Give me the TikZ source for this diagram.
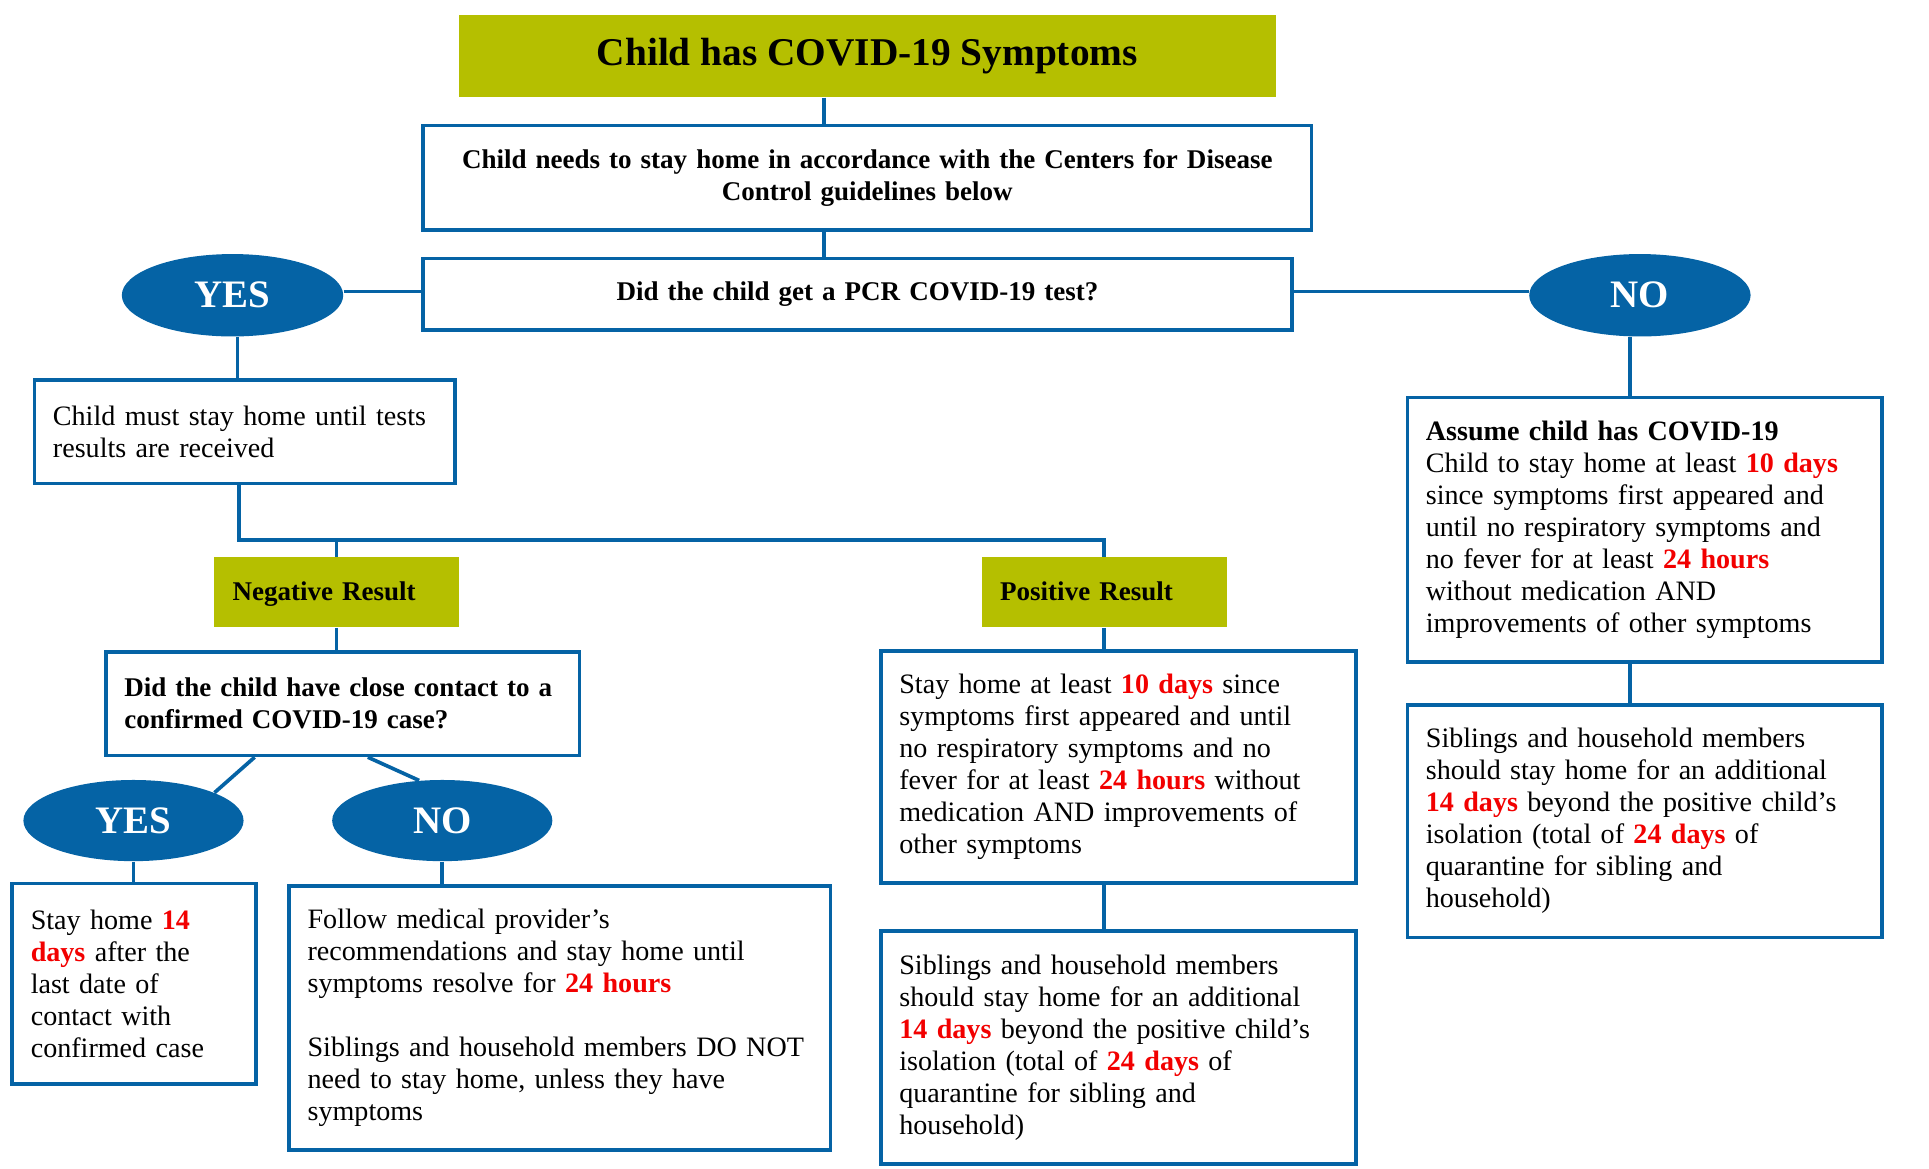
\documentclass[tikz,border=0pt]{standalone}
\usepackage{fontspec}
\setmainfont{Liberation Serif}
\usetikzlibrary{shapes.geometric}
\definecolor{cblue}{HTML}{0563A5}
\definecolor{olivebg}{HTML}{B5BF00}
\definecolor{hlred}{HTML}{F20000}
\newcommand{\hl}[1]{\textbf{\textcolor{hlred}{#1}}}
\tikzset{
  conn/.style={draw=cblue, line width=1.7pt},
  box/.style={draw=cblue, line width=1.7pt, fill=white, inner xsep=0.3cm, inner ysep=0pt,
    align=left, font=\fontsize{13}{14.8}\selectfont},
  boldbox/.style={box, font=\bfseries\fontsize{12.5}{14.8}\selectfont},
  cbox/.style={box, align=center, font=\bfseries\fontsize{12.5}{14.8}\selectfont},
  hdr/.style={fill=olivebg, inner xsep=0.3cm, inner ysep=0pt, align=left,
    text height=0.95em, text depth=0.22em,
    font=\bfseries\fontsize{12.5}{15}\selectfont},
  titlebox/.style={fill=olivebg, inner sep=0pt, font=\bfseries\fontsize{18.2}{22}\selectfont},
  oval/.style={ellipse, fill=cblue, inner sep=0pt, text=white,
    font=\bfseries\fontsize{18}{20}\selectfont},
}
\begin{document}
\begin{tikzpicture}[x=0.02cm, y=-0.02cm]
\useasboundingbox (0,0) rectangle (1568,950);

% nodes
\node[titlebox, minimum width=13.28cm, minimum height=1.34cm] (title) at (705,45.5) {Child has COVID-19 Symptoms};
\node[cbox, minimum width=14.44cm, minimum height=1.70cm, text width=13.84cm] (b2) at (705,144.5)
  {Child needs to stay home in accordance with the Centers for Disease\\Control guidelines below};
\node[cbox, minimum width=14.12cm, minimum height=1.16cm, text width=13.52cm] (b3) at (697,239)
  {Did the child get a PCR COVID-19 test?};
\node[oval, minimum width=3.6cm, minimum height=1.34cm] (yes1) at (189,240) {YES};
\node[oval, minimum width=3.6cm, minimum height=1.34cm] (no1) at (1333,240) {NO};

\node[box, minimum width=6.84cm, minimum height=1.68cm, text width=6.24cm] (b4) at (199,351)
  {Child must stay home until tests\\results are received};

\node[hdr, minimum width=3.98cm, minimum height=1.14cm, text width=3.38cm] (neg) at (273.5,481.5) {Negative Result};
\node[hdr, minimum width=3.98cm, minimum height=1.14cm, text width=3.38cm] (pos) at (897.5,481.5) {Positive Result};

\node[boldbox, minimum width=7.70cm, minimum height=1.68cm, text width=7.1cm] (b5) at (278.5,572)
  {Did the child have close contact to a\\confirmed COVID-19 case?};

\node[oval, minimum width=3.58cm, minimum height=1.32cm] (yes2) at (108.5,667) {YES};
\node[oval, minimum width=3.58cm, minimum height=1.32cm] (no2) at (359.5,667) {NO};

\node[box, minimum width=3.96cm, minimum height=3.26cm, text width=3.36cm] (b6) at (109,799.5)
  {Stay home \hl{14}\\\hl{days} after the\\last date of\\contact with\\confirmed case};

\node[box, minimum width=8.80cm, minimum height=4.30cm, text width=8.2cm] (b7) at (455,827.5)
  {Follow medical provider’s\\recommendations and stay home until\\symptoms resolve for \hl{24 hours}\\\mbox{}\\Siblings and household members DO NOT\\need to stay home, unless they have\\symptoms};

\node[box, minimum width=7.72cm, minimum height=3.78cm, text width=7.12cm] (b8) at (909,623.5)
  {Stay home at least \hl{10 days} since\\symptoms first appeared and until\\no respiratory symptoms and no\\fever for at least \hl{24 hours} without\\medication AND improvements of\\other symptoms};

\node[box, minimum width=7.72cm, minimum height=3.78cm, text width=7.12cm] (b9) at (909,851.5)
  {Siblings and household members\\should stay home for an additional\\\hl{14 days} beyond the positive child’s\\isolation (total of \hl{24 days} of\\quarantine for sibling and\\household)};

\node[box, minimum width=7.72cm, minimum height=4.30cm, text width=7.12cm] (b10) at (1337,430.5)
  {\textbf{Assume child has COVID-19}\\Child to stay home at least \hl{10 days}\\since symptoms first appeared and\\until no respiratory symptoms and\\no fever for at least \hl{24 hours}\\without medication AND\\improvements of other symptoms};

\node[box, minimum width=7.72cm, minimum height=3.78cm, text width=7.12cm] (b11) at (1337,667.5)
  {Siblings and household members\\should stay home for an additional\\\hl{14 days} beyond the positive child’s\\isolation (total of \hl{24 days} of\\quarantine for sibling and\\household)};

% helper coordinates
\coordinate (x670) at (670,0);
\coordinate (y237) at (0,237);
\coordinate (x193) at (193,0);
\coordinate (j1) at (194,439);
\coordinate (x1325) at (1325,0);
\coordinate (d1) at (207,0);
\coordinate (d2) at (299,0);

% connectors
\draw[conn] (title.south -| x670) -- (b2.north -| x670);
\draw[conn] (b2.south -| x670) -- (b3.north -| x670);
\draw[conn] (yes1.east |- y237) -- (b3.west |- y237);
\draw[conn] (b3.east |- y237) -- (no1.west |- y237);
\draw[conn] (yes1.south -| x193) -- (b4.north -| x193);
\draw[conn] (b4.south -| j1) -- (j1) -- (j1 -| pos.north) -- (pos.north);
\draw[conn] (neg.north |- j1) -- (neg.north);
\draw[conn] (neg.south) -- (neg.south |- b5.north);
\draw[conn] (b5.south -| d1) -- (yes2.19);
\draw[conn] (b5.south -| d2) -- (no2.120);
\draw[conn] (yes2.south) -- (yes2.south |- b6.north);
\draw[conn] (no2.south) -- (no2.south |- b7.north);
\draw[conn] (pos.south) -- (pos.south |- b8.north);
\draw[conn] (b8.south -| pos.south) -- (b9.north -| pos.south);
\draw[conn] (no1.south -| x1325) -- (b10.north -| x1325);
\draw[conn] (b10.south -| x1325) -- (b11.north -| x1325);
\end{tikzpicture}
\end{document}
